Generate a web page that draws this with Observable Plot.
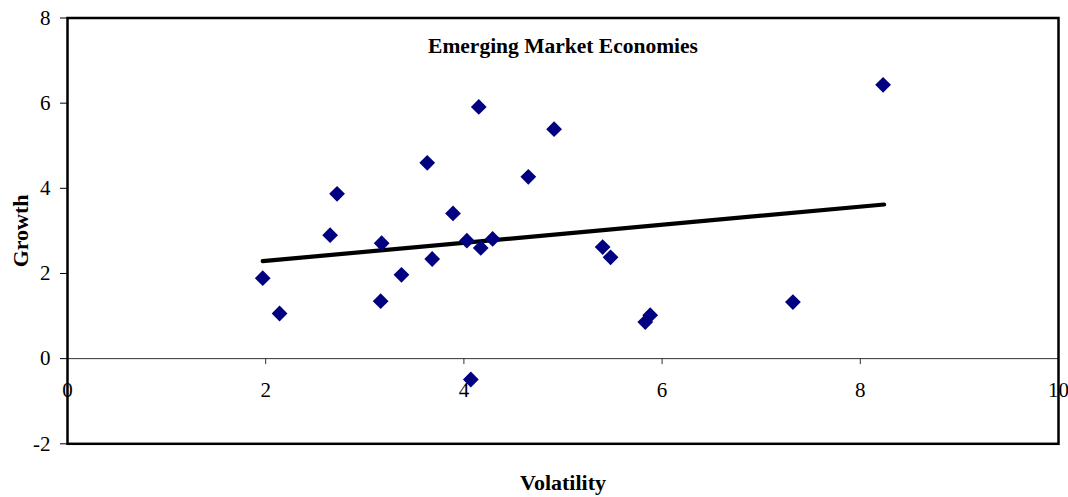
<!DOCTYPE html>
<html>
<head>
<meta charset="utf-8">
<script src="https://cdn.jsdelivr.net/npm/d3@7"></script>
<script src="https://cdn.jsdelivr.net/npm/@observablehq/plot@0.6"></script>
<style>
  html, body { margin: 0; padding: 0; background: #fff; }
</style>
</head>
<body>
<div id="chart"></div>
<script>
const volatility = [1.97, 2.14, 2.65, 2.72, 3.16, 3.17, 3.37, 3.63, 3.68, 3.89, 4.03, 4.07, 4.15, 4.17, 4.29, 4.65, 4.91, 5.40, 5.48, 5.83, 5.88, 7.32, 8.23];
const growth     = [1.89, 1.06, 2.90, 3.87, 1.35, 2.71, 1.97, 4.60, 2.34, 3.41, 2.77, -0.49, 5.91, 2.60, 2.81, 4.27, 5.39, 2.62, 2.38, 0.86, 1.02, 1.33, 6.43];
const trendX = [1.97, 8.24];
const trendY = [2.29, 3.62];
const xTicks = [0, 2, 4, 6, 8, 10];
const yTicks = [-2, 0, 2, 4, 6, 8];
const title = "Emerging Market Economies";
const xLabel = "Volatility";
const yLabel = "Growth";

const points = volatility.map((v, i) => ({x: v, y: growth[i]}));
const trend = trendX.map((v, i) => ({x: v, y: trendY[i]}));
const font = "'Liberation Serif', 'Times New Roman', serif";

const chart = Plot.plot({
  width: 1068,
  height: 497,
  marginLeft: 67,
  marginRight: 10,
  marginTop: 17.5,
  marginBottom: 53.7,
  style: {background: "#fff", fontFamily: font, color: "#000"},
  x: {domain: [0, 10], axis: null},
  y: {domain: [-2, 8], axis: null},
  marks: [
    Plot.ruleY([0], {stroke: "#333", strokeWidth: 1}),
    Plot.ruleX(xTicks.slice(1, -1), {x: d => d, y1: 0, y2: 0, insetBottom: -6, stroke: "#333", strokeWidth: 1}),
    Plot.axisY(yTicks, {tickSize: 7, tickPadding: 10, fontSize: 21, fontFamily: font, label: null, stroke: "#000", tickFormat: d => String(d)}),
    Plot.text(xTicks, {x: d => d, y: 0, dy: 32, text: d => String(d), fontSize: 21, fontFamily: font, fill: "#000"}),
    Plot.line(trend, {x: "x", y: "y", stroke: "#000", strokeWidth: 4.2, strokeLinecap: "round"}),
    Plot.dot(points, {x: "x", y: "y", symbol: "diamond2", r: 7.1, fill: "#000080", stroke: "none"}),
    Plot.text([title], {frameAnchor: "top", dy: 28.5, lineAnchor: "middle", text: d => d, fontSize: 21.5, fontWeight: "bold", fontFamily: font, fill: "#000"}),
    Plot.text([xLabel], {frameAnchor: "bottom", dy: 39, lineAnchor: "middle", text: d => d, fontSize: 22, fontWeight: "bold", fontFamily: font, fill: "#000"}),
    Plot.text([yLabel], {frameAnchor: "left", dx: -47, rotate: -90, textAnchor: "middle", lineAnchor: "middle", text: d => d, fontSize: 22, fontWeight: "bold", fontFamily: font, fill: "#000"}),
    Plot.frame({stroke: "#000", strokeWidth: 2.5})
  ]
});
document.getElementById("chart").appendChild(chart);
</script>
</body>
</html>
